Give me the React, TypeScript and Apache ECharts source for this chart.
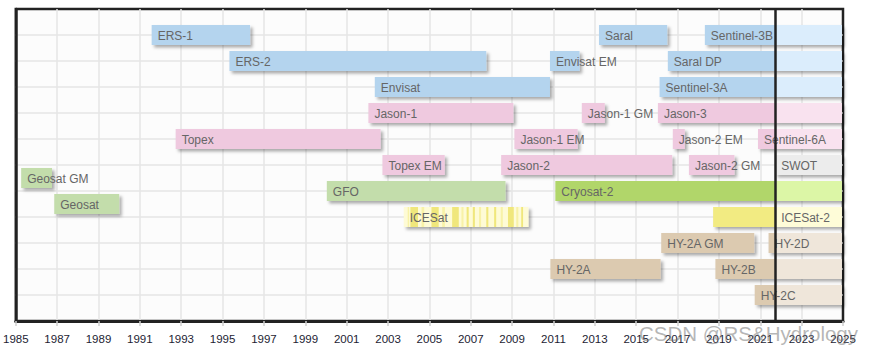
import React, { useEffect, useRef } from 'react';
import * as echarts from 'echarts';

// ---------- data ----------
const missionNames = [
  'ERS-1', 'Saral', 'Sentinel-3B',
  'ERS-2', 'Envisat EM', 'Saral DP',
  'Envisat', 'Sentinel-3A',
  'Jason-1', 'Jason-1 GM', 'Jason-3',
  'Topex', 'Jason-1 EM', 'Jason-2 EM', 'Sentinel-6A',
  'Topex EM', 'Jason-2', 'Jason-2 GM', 'SWOT',
  'Geosat GM',
  'GFO', 'Cryosat-2',
  'Geosat',
  'ICESat', 'ICESat-2',
  'HY-2A GM', 'HY-2D',
  'HY-2A', 'HY-2B',
  'HY-2C',
];
const missionStarts = [
  1991.57, 2013.2, 2018.32,
  1995.33, 2010.83, 2016.53,
  2002.36, 2016.13,
  2002.05, 2012.37, 2016.05,
  1992.73, 2009.11, 2016.77, 2020.89,
  2002.73, 2008.47, 2017.55, 2021.72,
  1985.26,
  2000.04, 2011.09,
  1986.86,
  2003.76, 2018.72,
  2016.21, 2021.4,
  2010.85, 2018.83,
  2020.73,
];
// null = still operating (runs to the "now" line, then continues in a pale tone)
const missionEnds: (number | null)[] = [
  1996.33, 2016.5, null,
  2007.75, 2012.26, null,
  2010.83, null,
  2009.06, 2013.48, null,
  2002.64, 2012.17, 2017.35, null,
  2005.74, 2016.74, 2019.75, null,
  1986.75,
  2008.68, null,
  1990.0,
  2009.79, null,
  2020.71, null,
  2016.18, null,
  null,
];
const missionRows = [
  11, 11, 11,
  10, 10, 10,
  9, 9,
  8, 8, 8,
  7, 7, 7, 7,
  6, 6, 6, 6,
  5.5,
  5, 5,
  4.5,
  4, 4,
  3, 3,
  2, 2,
  1,
];
const missionGroups = [
  'blue', 'blue', 'blue',
  'blue', 'blue', 'blue',
  'blue', 'blue',
  'pink', 'pink', 'pink',
  'pink', 'pink', 'pink', 'pink',
  'pink', 'pink', 'pink', 'grey',
  'green',
  'green', 'lime',
  'green',
  'icesat', 'yellow',
  'tan', 'tan',
  'tan', 'tan',
  'tan',
];
const futureLabelMissions = ['ICESat-2', 'SWOT'];
const icesatDarkStripes = [
  [2004.08, 2004.45], [2005.1, 2005.45], [2006.1, 2006.42], [2006.8, 2006.9],
  [2007.1, 2007.2], [2007.75, 2007.85], [2008.13, 2008.23], [2008.8, 2009.08],
  [2009.44, 2009.53],
];
const icesatMidStripes = [
  [2003.95, 2004.02], [2004.62, 2004.75], [2005.62, 2005.75], [2006.55, 2006.65],
  [2007.4, 2007.5], [2008.45, 2008.55], [2009.2, 2009.3],
];

const NOW = 2021.72;
const FUTURE_END = 2024.95;
const YEAR_MIN = 1985;
const YEAR_MAX = 2025;
const YEAR_STEP = 2;
const ROW_MIN = 0;
const ROW_MAX = 12;

const palette: Record<string, [string, string]> = {
  blue: ['#b4d4ee', '#dbedfc'],
  pink: ['#efc9df', '#f9e2ef'],
  green: ['#c3ddab', '#e2f0d4'],
  lime: ['#b1d66b', '#dcf6a6'],
  yellow: ['#f2eb82', '#fefcd8'],
  icesat: ['#fefbd6', '#fefbd6'],
  tan: ['#dccab0', '#efe6da'],
  grey: ['#ececec', '#ececec'],
};

type Seg = { start: number; end: number; row: number; name: string; color: string; label: boolean; stripes: boolean };

function buildSegments(): Seg[] {
  const segs: Seg[] = [];
  missionNames.forEach((name, i) => {
    const start = missionStarts[i];
    const end = missionEnds[i];
    const row = missionRows[i];
    const [past, future] = palette[missionGroups[i]];
    const futureLabel = futureLabelMissions.includes(name);
    if (end !== null) {
      segs.push({ start, end, row, name, color: past, label: true, stripes: name === 'ICESat' });
    } else {
      if (start < NOW - 0.05) {
        segs.push({ start, end: NOW, row, name, color: past, label: !futureLabel, stripes: false });
      }
      segs.push({ start: Math.max(start, NOW), end: FUTURE_END, row, name, color: future, label: futureLabel || start >= NOW - 0.05, stripes: false });
    }
  });
  return segs;
}

const FONT = '"Liberation Sans", Arial, sans-serif';

export default function App() {
  const ref = useRef<HTMLDivElement>(null);
  useEffect(() => {
    if (!ref.current) return;
    const chart = echarts.init(ref.current, undefined, { renderer: 'svg' });
    const segs = buildSegments();
    const data = segs.map((s, i) => [s.start, s.end, s.row, i]);

    const option: any = {
      animation: false,
      backgroundColor: '#ffffff',
      grid: {
        left: 13, right: 28, top: 9, bottom: 34,
        show: true, borderColor: '#222', borderWidth: 2.5, backgroundColor: '#fcfcfc',
      },
      xAxis: {
        type: 'value', min: YEAR_MIN, max: YEAR_MAX, interval: YEAR_STEP,
        axisLine: { show: true, lineStyle: { color: '#222', width: 3 } },
        axisTick: { show: true, length: 5, lineStyle: { color: '#cfcfcf', width: 1.5 } },
        axisLabel: {
          margin: 12, color: '#1d1d33', fontSize: 11.5, fontFamily: FONT,
          formatter: (v: number) => String(v),
        },
        splitLine: { show: true, showMinLine: false, showMaxLine: false, lineStyle: { color: '#e6e6e6', width: 1.5 } },
      },
      yAxis: {
        type: 'value', min: ROW_MIN, max: ROW_MAX, interval: 1,
        axisLine: { show: true, lineStyle: { color: '#222', width: 2.5 } },
        axisTick: { show: false },
        axisLabel: { show: false },
        splitLine: { show: true, showMinLine: false, showMaxLine: false, lineStyle: { color: '#e6e6e6', width: 1.5 } },
      },
      series: [
        {
          type: 'custom',
          data,
          encode: { x: [0, 1], y: 2 },
          clip: false,
          renderItem: (_params: any, api: any) => {
            const seg = segs[api.value(3)];
            const p0 = api.coord([api.value(0), api.value(2)]);
            const p1 = api.coord([api.value(1), api.value(2)]);
            const h = api.size([0, 1])[1] * 0.77;
            const children: any[] = [
              {
                type: 'rect',
                shape: { x: p0[0], y: p0[1] - h / 2, width: p1[0] - p0[0], height: h },
                style: {
                  fill: seg.color,
                  shadowColor: 'rgba(0,0,0,0.32)', shadowBlur: 3, shadowOffsetX: 2.5, shadowOffsetY: 2.5,
                },
                z2: 1,
              },
            ];
            if (seg.stripes) {
              const addStripes = (list: number[][], color: string) => {
                list.forEach(([a, b]) => {
                  const q0 = api.coord([a, api.value(2)]);
                  const q1 = api.coord([b, api.value(2)]);
                  children.push({
                    type: 'rect',
                    shape: { x: q0[0], y: p0[1] - h / 2, width: q1[0] - q0[0], height: h },
                    style: { fill: color },
                    z2: 2,
                  });
                });
              };
              addStripes(icesatMidStripes, '#f8f2a8');
              addStripes(icesatDarkStripes, '#f0e77c');
            }
            if (seg.label) {
              children.push({
                type: 'text',
                x: p0[0] + 6,
                y: p0[1] + 0.5,
                style: {
                  text: seg.name, fill: '#666', fontSize: 12, fontFamily: FONT,
                  verticalAlign: 'middle', align: 'left',
                },
                z2: 10,
              });
            }
            return { type: 'group', children };
          },
        },
        {
          type: 'line',
          data: [],
          z: 10,
          markLine: {
            silent: true,
            symbol: ['none', 'none'],
            label: { show: false },
            lineStyle: { color: '#222', width: 2.5, type: 'solid' },
            data: [{ xAxis: NOW }],
          },
        },
      ],
      graphic: [
        {
          type: 'text',
          right: 13,
          bottom: 11,
          z: 100,
          style: {
            text: 'CSDN @RS&Hydrology', fill: 'rgba(110,110,110,0.5)',
            fontSize: 20.5, fontFamily: FONT,
          },
        },
      ],
    };
    chart.setOption(option);
    return () => chart.dispose();
  }, []);
  return <div ref={ref} style={{ position: 'fixed', left: 0, top: 0, width: 871, height: 355 }} />;
}
